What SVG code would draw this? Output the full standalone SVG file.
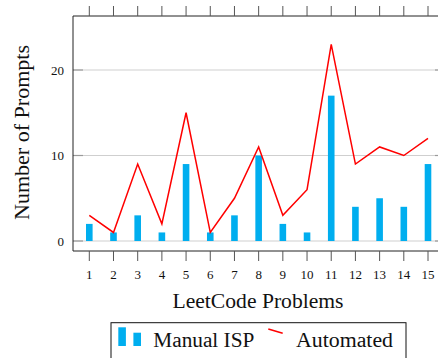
<svg xmlns="http://www.w3.org/2000/svg" width="438" height="358" viewBox="0 0 438 358">
  <style>
    .grid { stroke: #cfcfcf; stroke-width: 1; fill: none; }
    .ytick { stroke: #9a9a9a; stroke-width: 1.2; fill: none; }
    .axis { stroke: #222; stroke-width: 1; fill: none; }
    .xtick { stroke: #555; stroke-width: 1; fill: none; }
    .bar { fill: #00AEEF; }
    .series { stroke: #FF0000; stroke-width: 1.5; fill: none; stroke-linejoin: miter; }
    .tl { font-family: "Liberation Serif", "Times New Roman", serif; font-size: 13px; fill: #111; }
    .lab { font-family: "Liberation Serif", "Times New Roman", serif; font-size: 20px; fill: #111; }
  </style>

  <!-- horizontal grid at 0, 10, 20 -->
  <g id="grid">
    <line class="grid" x1="73" y1="241" x2="438" y2="241"/>
    <line class="grid" x1="73" y1="155.5" x2="438" y2="155.5"/>
    <line class="grid" x1="73" y1="70" x2="438" y2="70"/>
    <line class="ytick" x1="73" y1="241" x2="83" y2="241"/>
    <line class="ytick" x1="73" y1="155.5" x2="83" y2="155.5"/>
    <line class="ytick" x1="73" y1="70" x2="83" y2="70"/>
    <line class="ytick" x1="435" y1="241" x2="438" y2="241"/>
    <line class="ytick" x1="435" y1="155.5" x2="438" y2="155.5"/>
    <line class="ytick" x1="435" y1="70" x2="438" y2="70"/>
  </g>

  <!-- frame and outward ticks -->
  <g id="axes">
    <line class="axis" x1="73" y1="16" x2="438" y2="16"/>
    <line class="axis" x1="73" y1="251" x2="438" y2="251"/>
    <line class="axis" x1="73" y1="16" x2="73" y2="251"/>
    <path class="xtick" d="M89.3 6V16M113.49 6V16M137.69 6V16M161.88 6V16M186.07 6V16M210.27 6V16M234.46 6V16M258.65 6V16M282.84 6V16M307.04 6V16M331.23 6V16M355.42 6V16M379.62 6V16M403.81 6V16M428 6V16"/>
    <path class="xtick" d="M89.3 251V261M113.49 251V261M137.69 251V261M161.88 251V261M186.07 251V261M210.27 251V261M234.46 251V261M258.65 251V261M282.84 251V261M307.04 251V261M331.23 251V261M355.42 251V261M379.62 251V261M403.81 251V261M428 251V261"/>
  </g>

  <!-- tick labels -->
  <g id="y-tick-labels" class="tl" text-anchor="end">
    <text x="64" y="245.5">0</text>
    <text x="64" y="160">10</text>
    <text x="64" y="74.5">20</text>
  </g>
  <g id="x-tick-labels" class="tl" text-anchor="middle">
    <text x="89.3" y="279">1</text>
    <text x="113.49" y="279">2</text>
    <text x="137.69" y="279">3</text>
    <text x="161.88" y="279">4</text>
    <text x="186.07" y="279">5</text>
    <text x="210.27" y="279">6</text>
    <text x="234.46" y="279">7</text>
    <text x="258.65" y="279">8</text>
    <text x="282.84" y="279">9</text>
    <text x="307.04" y="279">10</text>
    <text x="331.23" y="279">11</text>
    <text x="355.42" y="279">12</text>
    <text x="379.62" y="279">13</text>
    <text x="403.81" y="279">14</text>
    <text x="428" y="279">15</text>
  </g>

  <!-- axis titles -->
  <text id="x-title" class="lab" x="258" y="308" text-anchor="middle" textLength="171" lengthAdjust="spacingAndGlyphs">LeetCode Problems</text>
  <text id="y-title" class="lab" transform="translate(29 132.5) rotate(-90)" text-anchor="middle" textLength="175" lengthAdjust="spacingAndGlyphs">Number of Prompts</text>

  <!-- Manual ISP bars -->
  <g id="manual-isp">
    <rect class="bar" x="86.0" y="223.9" width="6.6" height="17.1"/>
    <rect class="bar" x="110.19" y="232.45" width="6.6" height="8.55"/>
    <rect class="bar" x="134.39" y="215.35" width="6.6" height="25.65"/>
    <rect class="bar" x="158.58" y="232.45" width="6.6" height="8.55"/>
    <rect class="bar" x="182.77" y="164.05" width="6.6" height="76.95"/>
    <rect class="bar" x="206.97" y="232.45" width="6.6" height="8.55"/>
    <rect class="bar" x="231.16" y="215.35" width="6.6" height="25.65"/>
    <rect class="bar" x="255.35" y="155.5" width="6.6" height="85.5"/>
    <rect class="bar" x="279.54" y="223.9" width="6.6" height="17.1"/>
    <rect class="bar" x="303.74" y="232.45" width="6.6" height="8.55"/>
    <rect class="bar" x="327.93" y="95.65" width="6.6" height="145.35"/>
    <rect class="bar" x="352.12" y="206.8" width="6.6" height="34.2"/>
    <rect class="bar" x="376.32" y="198.25" width="6.6" height="42.75"/>
    <rect class="bar" x="400.51" y="206.8" width="6.6" height="34.2"/>
    <rect class="bar" x="424.7" y="164.05" width="6.6" height="76.95"/>
  </g>

  <!-- Automated series -->
  <g id="automated">
    <polyline class="series" points="89.3,215.35 113.49,232.45 137.69,164.05 161.88,223.9 186.07,112.75 210.27,232.45 234.46,198.25 258.65,146.95 282.84,215.35 307.04,189.7 331.23,44.35 355.42,164.05 379.62,146.95 403.81,155.5 428,138.4"/>
  </g>

  <!-- legend -->
  <g id="legend">
    <rect x="111" y="322.7" width="295" height="45" fill="#fff" stroke="#111" stroke-width="1"/>
    <rect class="bar" x="118.3" y="327.3" width="7.6" height="18.7"/>
    <rect class="bar" x="133.4" y="332.7" width="7.6" height="13.3"/>
    <text class="lab" x="153.3" y="346.7" textLength="101" lengthAdjust="spacingAndGlyphs">Manual ISP</text>
    <line class="series" x1="268.3" y1="329" x2="282.7" y2="333.3"/>
    <text class="lab" x="296" y="346.7" textLength="97" lengthAdjust="spacingAndGlyphs">Automated</text>
  </g>
</svg>
